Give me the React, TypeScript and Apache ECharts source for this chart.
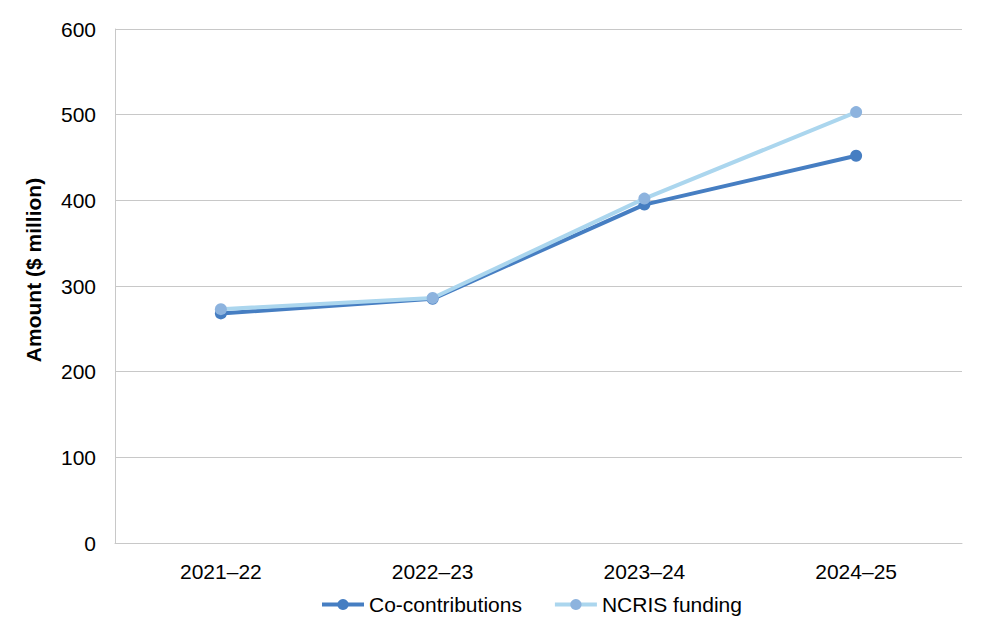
import React, { useEffect, useRef } from "react";
import * as echarts from "echarts";

const categories = ["2021–22", "2022–23", "2023–24", "2024–25"];
const coContributions = [268, 285, 395, 452];
const ncrisFunding = [273, 286, 402, 503];
const yTicks = { min: 0, max: 600, interval: 100 };
const yTitle = "Amount ($ million)";

export default function App() {
  const ref = useRef<HTMLDivElement>(null);
  useEffect(() => {
    if (!ref.current) return;
    const chart = echarts.init(ref.current, undefined, { renderer: "svg" });
    const font = "Liberation Sans, Arial, sans-serif";
    chart.setOption({
      animation: false,
      backgroundColor: "#ffffff",
      textStyle: { fontFamily: font },
      grid: { left: 115, right: 24, top: 29, bottom: 95, containLabel: false },
      graphic: [
        {
          type: "text",
          x: 33,
          y: 270,
          rotation: Math.PI / 2,
          style: {
            text: yTitle,
            font: "bold 21px Liberation Sans, Arial, sans-serif",
            fill: "#000",
            textAlign: "center",
            textVerticalAlign: "middle",
          },
        },
      ],
      legend: {
        top: 589,
        left: 315,
        itemWidth: 42,
        itemHeight: 14,
        itemGap: 31,
        lineStyle: { width: 4 },
        textStyle: { fontSize: 21, color: "#000", fontFamily: font },
        data: ["Co-contributions", "NCRIS funding"],
      },
      xAxis: {
        type: "category",
        data: categories,
        boundaryGap: true,
        axisLine: { show: true, lineStyle: { color: "#c8c8c8", width: 1 } },
        axisTick: { show: false },
        axisLabel: { fontSize: 21, color: "#000", margin: 18, fontFamily: font },
      },
      yAxis: {
        type: "value",
        min: yTicks.min,
        max: yTicks.max,
        interval: yTicks.interval,
        axisLine: { show: true, lineStyle: { color: "#c8c8c8", width: 1 } },
        axisTick: { show: false },
        axisLabel: { fontSize: 21, color: "#000", margin: 19, fontFamily: font },
        splitLine: { show: true, lineStyle: { color: "#c8c8c8", width: 1 } },
      },
      series: [
        {
          name: "NCRIS funding",
          type: "line",
          data: ncrisFunding,
          symbol: "circle",
          symbolSize: 12,
          z: 3,
          lineStyle: { color: "#abd6ee", width: 4 },
          itemStyle: { color: "#8db3de" },
        },
        {
          name: "Co-contributions",
          type: "line",
          data: coContributions,
          symbol: "circle",
          symbolSize: 12,
          z: 2,
          lineStyle: { color: "#467ec2", width: 4 },
          itemStyle: { color: "#467ec2" },
        },
      ],
    });
    return () => chart.dispose();
  }, []);
  return (
    <div
      ref={ref}
      style={{ position: "absolute", left: 0, top: 0, width: 986, height: 638, background: "#fff" }}
    />
  );
}
